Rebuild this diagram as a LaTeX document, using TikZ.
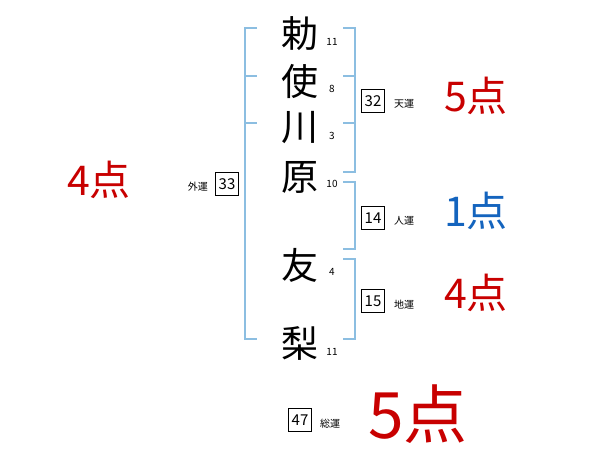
\documentclass[tikz,border=0pt]{standalone}
\usepackage{fontspec}
\newfontfamily\jp{Noto Sans CJK JP}
\definecolor{brk}{RGB}{140,190,225}
\definecolor{ptred}{RGB}{200,0,0}
\definecolor{ptblue}{RGB}{20,100,190}
\begin{document}
\begin{tikzpicture}[x=1pt,y=-1pt,
  brline/.style={draw=brk,line width=1.6pt},
  namechar/.style={font=\jp\fontsize{37}{37}\selectfont,inner sep=0pt},
  strokes/.style={font=\jp\fontsize{10}{10}\selectfont,inner sep=0pt},
  numbox/.style={draw,line width=0.7pt,minimum width=23pt,minimum height=23pt,inner sep=0pt,font=\jp\fontsize{15}{15}\selectfont},
  unlabel/.style={font=\jp\fontsize{10}{10}\selectfont,inner sep=0pt},
  pts/.style={font=\jp\fontsize{41}{41}\selectfont,inner sep=0pt}]
\useasboundingbox (0,0) rectangle (600,470);
% left bracket
\coordinate (l1) at (245,28); \coordinate (l2) at (245,339);
\draw[brline] (257,28) -- (l1) -- (l2) -- (257,339);
\draw[brline] (245,76) -- (257,76);
\draw[brline] (245,123) -- (257,123);
% right bracket 1
\draw[brline] (343,28) -- (355,28) -- (355,172) -- (343,172);
\draw[brline] (343,76) -- (355,76);
\draw[brline] (343,123) -- (355,123);
% right bracket 2
\draw[brline] (343,182) -- (355,182) -- (355,249) -- (343,249);
% right bracket 3
\draw[brline] (343,259) -- (355,259) -- (355,339) -- (343,339);
% name characters
\node[namechar] (c1) at (300,34) {勅};
\node[namechar] (c2) at (300,81) {使};
\node[namechar] (c3) at (300,128) {川};
\node[namechar] (c4) at (300,177) {原};
\node[namechar] (c5) at (300,265) {友};
\node[namechar] (c6) at (300,343) {梨};
% stroke counts
\node[strokes] (s1) at (332,42) {11};
\node[strokes] (s2) at (332,89) {8};
\node[strokes] (s3) at (332,136) {3};
\node[strokes] (s4) at (332,184) {10};
\node[strokes] (s5) at (332,272) {4};
\node[strokes] (s6) at (332,352) {11};
% boxes
\node[numbox] (ten) at (373,101) {32};
\node[unlabel,anchor=west] (tenl) at (394,104) {天運};
\node[numbox] (jin) at (373,218) {14};
\node[unlabel,anchor=west] (jinl) at (394,221) {人運};
\node[numbox] (chi) at (373,301) {15};
\node[unlabel,anchor=west] (chil) at (394,305) {地運};
\node[numbox] (gai) at (227,184) {33};
\node[unlabel,anchor=east] (gail) at (208,187) {外運};
\node[numbox] (sou) at (300,420) {47};
\node[unlabel,anchor=west] (soul) at (320,424) {総運};
% points
\node[pts,text=ptred] (p1) at (476,96) {5点};
\node[pts,text=ptblue] (p2) at (476,211) {1点};
\node[pts,text=ptred] (p3) at (476,293) {4点};
\node[pts,text=ptred] (p4) at (99,180) {4点};
\node[font=\jp\fontsize{64}{64}\selectfont,inner sep=0pt,text=ptred] (p5) at (418,414) {5点};
\end{tikzpicture}
\end{document}
